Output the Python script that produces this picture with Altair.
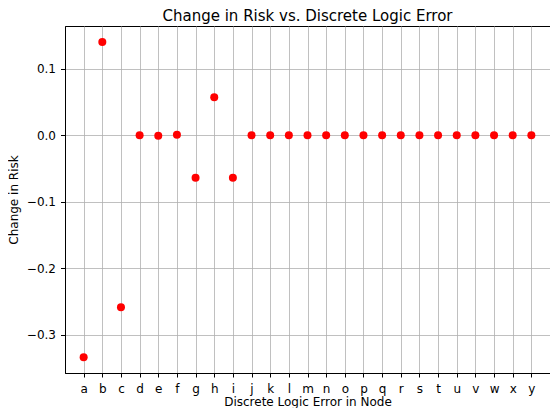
import altair as alt
import pandas as pd

nodes = list("abcdefghijklmnopqrstuvwxy")
risk_change = [-0.334, 0.140, -0.259, 0.0, -0.001, 0.0005, -0.064, 0.057, -0.064,
               0.0, 0.0, 0.0, 0.0, 0.0, 0.0, 0.0, 0.0, 0.0, 0.0, 0.0, 0.0, 0.0, 0.0, 0.0, 0.0]
y_ticks = [-0.3, -0.2, -0.1, 0.0, 0.1]

df = pd.DataFrame({"node": nodes, "risk": risk_change})

font = "DejaVu Sans"

chart = alt.Chart(df).mark_circle(size=64, color="#ff0000", opacity=1).encode(
    x=alt.X("node:N", sort=nodes,
            scale=alt.Scale(type="point", padding=1.2),
            axis=alt.Axis(title="Discrete Logic Error in Node", labelAngle=0,
                          grid=True, gridColor="#b0b0b0", gridWidth=0.8,
                          tickColor="black", tickSize=4, domainColor="black",
                          labelFont=font, labelFontSize=12, labelColor="black",
                          titleFont=font, titleFontSize=12, titleFontWeight="normal",
                          titleColor="black", labelPadding=6, titlePadding=2)),
    y=alt.Y("risk:Q",
            scale=alt.Scale(domain=[-0.3577, 0.1641], nice=False, zero=False),
            axis=alt.Axis(title="Change in Risk", values=y_ticks, format=".1f",
                          grid=True, gridColor="#b0b0b0", gridWidth=0.8,
                          tickColor="black", tickSize=4.5, domainColor="black",
                          labelFont=font, labelFontSize=12, labelColor="black",
                          titleFont=font, titleFontSize=12, titleFontWeight="normal",
                          titleColor="black", labelPadding=5, titlePadding=6)),
).properties(
    width=485, height=347,
    title=alt.TitleParams("Change in Risk vs. Discrete Logic Error", font=font,
                          fontSize=15, fontWeight="normal", color="black", offset=2),
    autosize=alt.AutoSizeParams(type="none"),
    padding={"left": 57, "top": 18, "right": 0, "bottom": 35},
).configure_view(stroke="black", strokeWidth=1)

chart.save("out.html", embed_options={"renderer": "svg", "actions": False})
